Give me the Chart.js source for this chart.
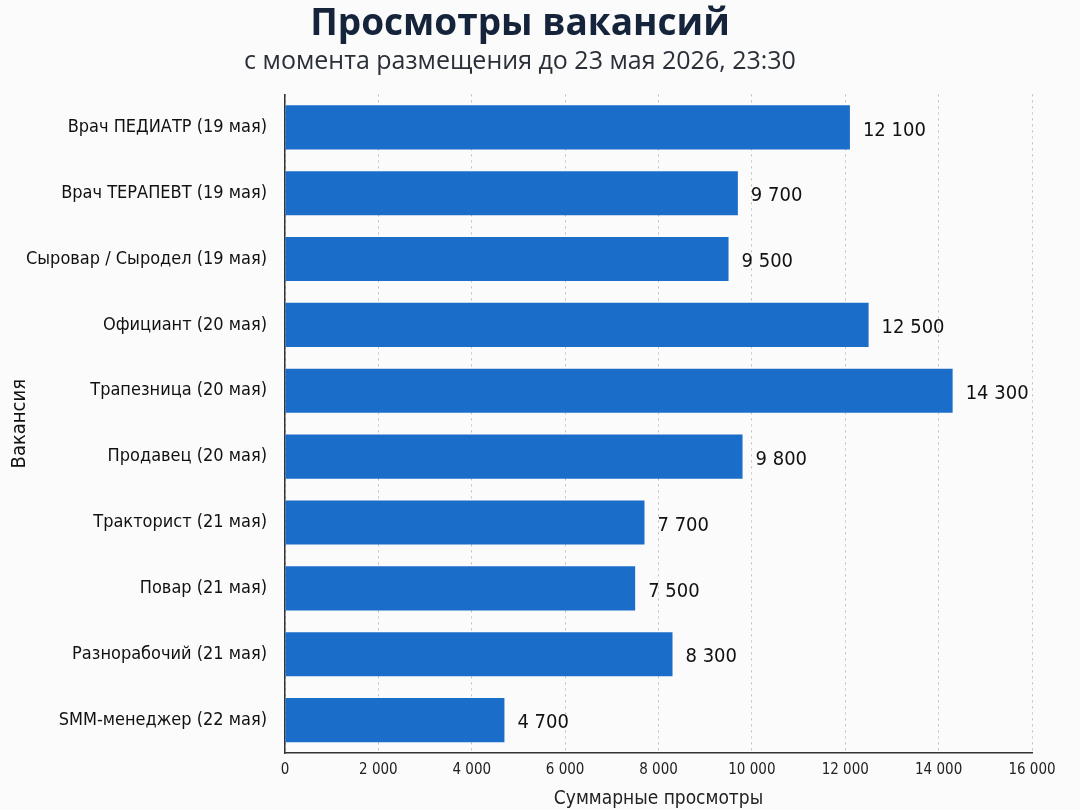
<!DOCTYPE html>
<html><head><meta charset="utf-8">
<script src="https://cdn.jsdelivr.net/npm/chart.js@4/dist/chart.umd.min.js"></script>
<style>html,body{margin:0;padding:0;background:#fbfbfb;}#wrap{width:1080px;height:810px;}</style>
</head><body><div id="wrap"><canvas id="c" width="1080" height="810"></canvas></div>
<script>
const categories = ["Врач ПЕДИАТР (19 мая)","Врач ТЕРАПЕВТ (19 мая)","Сыровар / Сыродел (19 мая)","Официант (20 мая)","Трапезница (20 мая)","Продавец (20 мая)","Тракторист (21 мая)","Повар (21 мая)","Разнорабочий (21 мая)","SMM-менеджер (22 мая)"];
const views = [12100,9700,9500,12500,14300,9800,7700,7500,8300,4700];
const xTicks = [0,2000,4000,6000,8000,10000,12000,14000,16000];

const FONT = "'DejaVu Sans Condensed','Open Sans',sans-serif";
const fmt = v => String(v).replace(/\B(?=(\d{3})+(?!\d))/g, ' ');

const labelPlugin = {
  id:'vals',
  afterDatasetsDraw(chart){
    const ctx = chart.ctx;
    const meta = chart.getDatasetMeta(0);
    ctx.save();
    ctx.font = "20px " + FONT;
    ctx.fillStyle = "#111";
    ctx.textAlign = "left"; ctx.textBaseline = "middle";
    meta.data.forEach((bar,i)=>{ ctx.fillText(fmt(views[i]), bar.x + 13, bar.y + 3); });
    ctx.restore();
  }
};
const bgPlugin = {id:'bg',beforeDraw(c){const x=c.ctx;x.save();x.fillStyle='#fbfbfb';x.fillRect(0,0,c.width,c.height);x.restore();}};

new Chart(document.getElementById('c'), {
  type:'bar',
  data:{labels:categories,datasets:[{data:views,backgroundColor:'#1b6dca',borderWidth:0,categoryPercentage:0.67,barPercentage:1}]},
  options:{
    indexAxis:'y', responsive:false, animation:false,
    layout:{padding:{left:8,right:48,top:0,bottom:0}},
    plugins:{
      legend:{display:false}, tooltip:{enabled:false},
      title:{display:true,text:'Просмотры вакансий',color:'#15243a',font:{family:"'Open Sans',sans-serif",size:37,weight:'bold'},padding:{top:2,bottom:0}},
      subtitle:{display:true,text:'с момента размещения до 23 мая 2026, 23:30',color:'#2a2f38',font:{family:"'Open Sans',sans-serif",size:25},padding:{top:0,bottom:18}}
    },
    scales:{
      x:{min:0,max:16000,
        afterBuildTicks(s){s.ticks = xTicks.map(v=>({value:v}));},
        afterFit(s){s.height = 57;},
        ticks:{callback:v=>fmt(v),color:'#222',font:{family:FONT,size:15},padding:8,maxRotation:0},
        grid:{display:true,color:'#bdbdbd',lineWidth:1,drawTicks:false,tickLength:0},
        border:{display:true,color:'#333',width:1.5,dash:[2,4]},
        title:{display:true,text:'Суммарные просмотры',color:'#222',font:{family:FONT,size:19},padding:{top:2,bottom:0}}
      },
      y:{
        afterFit(s){s.width = 277;},
        ticks:{color:'#111',font:{family:FONT,size:18},padding:18},
        grid:{display:false,drawTicks:false},
        border:{display:true,color:'#333',width:1.5},
        title:{display:true,text:'Вакансия',color:'#111',font:{family:FONT,size:20},padding:{top:0,bottom:0}}
      }
    }
  },
  plugins:[bgPlugin,labelPlugin]
});
</script></body></html>
